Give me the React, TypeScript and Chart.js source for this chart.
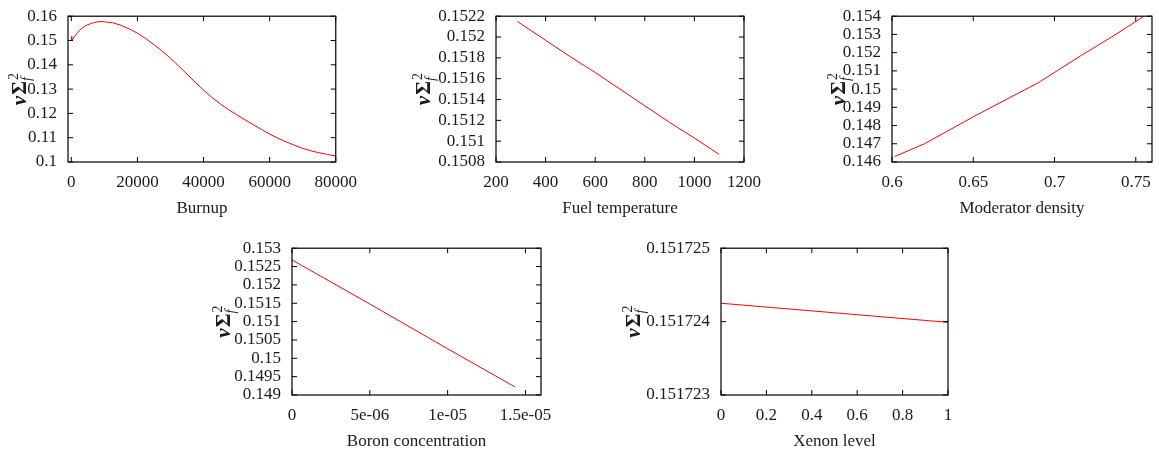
import React, { useEffect, useRef } from 'react';
import { Chart, registerables } from 'chart.js';

Chart.register(...registerables);

const FONT = "'Liberation Serif', 'Times New Roman', serif";
const TEXT_COLOR = '#1a1a1a';
const LINE_COLOR = '#ff0000';

// ---------- Burnup ----------
const burnupX = [0, 150, 500, 1000, 2000, 3000, 4000, 5000, 6000, 7000, 8000, 9000, 10000, 12500, 15000, 17500, 20000, 22500, 25000, 27500, 30000, 32500, 35000, 37500, 40000, 42500, 45000, 47500, 50000, 52500, 55000, 57500, 60000, 62500, 65000, 67500, 70000, 72500, 75000, 77500, 80000];
const burnupY = [0.1516, 0.15, 0.1507, 0.1517, 0.1534, 0.1548, 0.1558, 0.1565, 0.157, 0.1574, 0.1577, 0.1578, 0.1577, 0.1573, 0.1563, 0.1548, 0.153, 0.1508, 0.1483, 0.1456, 0.1427, 0.1395, 0.1362, 0.1328, 0.1296, 0.1266, 0.124, 0.1216, 0.1195, 0.1174, 0.1154, 0.1134, 0.1115, 0.1098, 0.1083, 0.1069, 0.1056, 0.1046, 0.1038, 0.1031, 0.1025];
const burnupXTicks = [0, 20000, 40000, 60000, 80000];
const burnupXTickLabels = ['0', '20000', '40000', '60000', '80000'];
const burnupYTicks = [0.1, 0.11, 0.12, 0.13, 0.14, 0.15, 0.16];
const burnupYTickLabels = ['0.1', '0.11', '0.12', '0.13', '0.14', '0.15', '0.16'];

// ---------- Fuel temperature ----------
const fuelTempX = [286, 500, 600, 700, 800, 900, 1000, 1100];
const fuelTempY = [0.15215, 0.15181, 0.15166, 0.1515, 0.15134, 0.15118, 0.15103, 0.150873];
const fuelTempXTicks = [200, 400, 600, 800, 1000, 1200];
const fuelTempXTickLabels = ['200', '400', '600', '800', '1000', '1200'];
const fuelTempYTicks = [0.1508, 0.151, 0.1512, 0.1514, 0.1516, 0.1518, 0.152, 0.1522];
const fuelTempYTickLabels = ['0.1508', '0.151', '0.1512', '0.1514', '0.1516', '0.1518', '0.152', '0.1522'];

// ---------- Moderator density ----------
const modDensX = [0.6017, 0.62, 0.65, 0.69, 0.716, 0.735, 0.7548];
const modDensY = [0.1463, 0.147, 0.14848, 0.15035, 0.15182, 0.15285, 0.15398];
const modDensXTicks = [0.6, 0.65, 0.7, 0.75];
const modDensXTickLabels = ['0.6', '0.65', '0.7', '0.75'];
const modDensYTicks = [0.146, 0.147, 0.148, 0.149, 0.15, 0.151, 0.152, 0.153, 0.154];
const modDensYTickLabels = ['0.146', '0.147', '0.148', '0.149', '0.15', '0.151', '0.152', '0.153', '0.154'];

// ---------- Boron concentration ----------
const boronX = [0, 5e-6, 1e-5, 1.433e-5];
const boronY = [0.15268, 0.15148, 0.15026, 0.14922];
const boronXTicks = [0, 5e-6, 1e-5, 1.5e-5];
const boronXTickLabels = ['0', '5e-06', '1e-05', '1.5e-05'];
const boronYTicks = [0.149, 0.1495, 0.15, 0.1505, 0.151, 0.1515, 0.152, 0.1525, 0.153];
const boronYTickLabels = ['0.149', '0.1495', '0.15', '0.1505', '0.151', '0.1515', '0.152', '0.1525', '0.153'];

// ---------- Xenon level ----------
const xenonX = [0, 1];
const xenonY = [0.15172425, 0.15172399];
const xenonXTicks = [0, 0.2, 0.4, 0.6, 0.8, 1];
const xenonXTickLabels = ['0', '0.2', '0.4', '0.6', '0.8', '1'];
const xenonYTicks = [0.151723, 0.151724, 0.151725];
const xenonYTickLabels = ['0.151723', '0.151724', '0.151725'];

type PlotDef = {
  xs: number[];
  ys: number[];
  xRange: [number, number];
  yRange: [number, number];
  xTicks: number[];
  xTickLabels: string[];
  yTicks: number[];
  yTickLabels: string[];
  xTitle: string;
};

const PLOTS: PlotDef[] = [
  { xs: burnupX, ys: burnupY, xRange: [-1000, 80000], yRange: [0.1, 0.16], xTicks: burnupXTicks, xTickLabels: burnupXTickLabels, yTicks: burnupYTicks, yTickLabels: burnupYTickLabels, xTitle: 'Burnup' },
  { xs: fuelTempX, ys: fuelTempY, xRange: [200, 1200], yRange: [0.1508, 0.1522], xTicks: fuelTempXTicks, xTickLabels: fuelTempXTickLabels, yTicks: fuelTempYTicks, yTickLabels: fuelTempYTickLabels, xTitle: 'Fuel temperature' },
  { xs: modDensX, ys: modDensY, xRange: [0.6, 0.76], yRange: [0.146, 0.154], xTicks: modDensXTicks, xTickLabels: modDensXTickLabels, yTicks: modDensYTicks, yTickLabels: modDensYTickLabels, xTitle: 'Moderator density' },
  { xs: boronX, ys: boronY, xRange: [0, 1.6e-5], yRange: [0.149, 0.153], xTicks: boronXTicks, xTickLabels: boronXTickLabels, yTicks: boronYTicks, yTickLabels: boronYTickLabels, xTitle: 'Boron concentration' },
  { xs: xenonX, ys: xenonY, xRange: [0, 1], yRange: [0.151723, 0.151725], xTicks: xenonXTicks, xTickLabels: xenonXTickLabels, yTicks: xenonYTicks, yTickLabels: xenonYTickLabels, xTitle: 'Xenon level' },
];

// plot-area boxes on the page (layout only)
const BOXES = [
  { l: 68, t: 9, r: 337, b: 162, labelOffset: 42 },
  { l: 496, t: 9, r: 744, b: 162, labelOffset: 66 },
  { l: 892, t: 9, r: 1152, b: 162, labelOffset: 47 },
  { l: 292, t: 241, r: 541, b: 395, labelOffset: 62 },
  { l: 721, t: 241, r: 948, b: 395, labelOffset: 81 },
];

const WY = 110;
const PAD_TOP = 14;
const PAD_RIGHT = 30;
const HX = 57;
const FONT_SIZE = 17;

const framePlugin = {
  id: 'gnuFrame',
  afterDatasetsDraw(chart: any, _args: any, opts: any) {
    const { ctx, chartArea: a, scales } = chart;
    const L = 5;
    ctx.save();
    ctx.strokeStyle = '#000';
    ctx.lineWidth = 1;
    ctx.beginPath();
    for (const t of scales.x.ticks) {
      const p = scales.x.getPixelForValue(t.value);
      ctx.moveTo(p, a.bottom);
      ctx.lineTo(p, a.bottom - L);
      ctx.moveTo(p, a.top);
      ctx.lineTo(p, a.top + L);
    }
    for (const t of scales.y.ticks) {
      const p = scales.y.getPixelForValue(t.value);
      ctx.moveTo(a.left, p);
      ctx.lineTo(a.left + L, p);
      ctx.moveTo(a.right, p);
      ctx.lineTo(a.right - L, p);
    }
    ctx.stroke();
    ctx.lineWidth = 1.2;
    ctx.strokeRect(a.left, a.top, a.right - a.left, a.bottom - a.top);

    // y-axis label: bold nu Sigma with sub f and sup 2, rotated
    const cx = a.left - opts.labelOffset;
    const cy = (a.top + a.bottom) / 2;
    ctx.translate(cx, cy);
    ctx.rotate(-Math.PI / 2);
    ctx.fillStyle = TEXT_COLOR;
    ctx.textBaseline = 'alphabetic';
    ctx.textAlign = 'left';
    const mainSize = 21;
    const scriptSize = 14;
    ctx.font = `italic bold ${mainSize}px ${FONT}`;
    const wNu = ctx.measureText('ν').width;
    ctx.font = `bold ${mainSize}px ${FONT}`;
    const wSig = ctx.measureText('Σ').width;
    ctx.font = `${scriptSize}px ${FONT}`;
    const w2 = ctx.measureText('2').width;
    ctx.font = `italic ${scriptSize}px ${FONT}`;
    const wf = ctx.measureText('f').width;
    const total = wNu + 1 + wSig + 1 + Math.max(w2, wf);
    const x0 = -total / 2;
    ctx.font = `italic bold ${mainSize}px ${FONT}`;
    ctx.fillText('ν', x0, 0);
    ctx.font = `bold ${mainSize}px ${FONT}`;
    ctx.fillText('Σ', x0 + wNu + 1, 0);
    ctx.font = `${scriptSize}px ${FONT}`;
    ctx.fillText('2', x0 + wNu + wSig + 2, -8);
    ctx.font = `italic ${scriptSize}px ${FONT}`;
    ctx.fillText('f', x0 + wNu + wSig + 1, 5);
    ctx.restore();
  },
};

function PlotCanvas({ plot, box }: { plot: PlotDef; box: typeof BOXES[number] }) {
  const ref = useRef<HTMLCanvasElement | null>(null);
  const width = WY + (box.r - box.l) + PAD_RIGHT;
  const height = PAD_TOP + (box.b - box.t) + HX;
  useEffect(() => {
    if (!ref.current) return;
    const font = { family: FONT, size: FONT_SIZE };
    const chart = new Chart(ref.current, {
      type: 'line',
      data: {
        datasets: [
          {
            data: plot.xs.map((x, i) => ({ x, y: plot.ys[i] })),
            borderColor: LINE_COLOR,
            borderWidth: 1,
            pointRadius: 0,
            tension: 0,
            fill: false,
          },
        ],
      },
      options: {
        responsive: false,
        animation: false,
        events: [],
        layout: { padding: { left: 0, top: PAD_TOP, right: PAD_RIGHT, bottom: 0 } },
        plugins: {
          legend: { display: false },
          tooltip: { enabled: false },
          gnuFrame: { labelOffset: box.labelOffset },
        } as any,
        scales: {
          x: {
            type: 'linear',
            min: plot.xRange[0],
            max: plot.xRange[1],
            afterBuildTicks: (s: any) => {
              s.ticks = plot.xTicks.map((v) => ({ value: v }));
            },
            afterFit: (s: any) => {
              s.height = HX;
            },
            grid: { display: false, drawTicks: false },
            border: { display: false },
            ticks: {
              autoSkip: false,
              maxRotation: 0,
              padding: 10,
              color: TEXT_COLOR,
              font,
              callback: (_v: any, i: number) => plot.xTickLabels[i],
            },
            title: { display: true, text: plot.xTitle, padding: 0, color: TEXT_COLOR, font },
          },
          y: {
            type: 'linear',
            min: plot.yRange[0],
            max: plot.yRange[1],
            afterBuildTicks: (s: any) => {
              s.ticks = plot.yTicks.map((v) => ({ value: v }));
            },
            afterFit: (s: any) => {
              s.width = WY;
            },
            grid: { display: false, drawTicks: false },
            border: { display: false },
            ticks: {
              autoSkip: false,
              padding: 11,
              color: TEXT_COLOR,
              font,
              callback: (_v: any, i: number) => plot.yTickLabels[i],
            },
          },
        },
      } as any,
      plugins: [framePlugin],
    });
    return () => chart.destroy();
  }, [plot, box]);
  return (
    <canvas
      ref={ref}
      width={width}
      height={height}
      style={{ position: 'absolute', left: box.l - WY, top: box.t - PAD_TOP, width, height }}
    />
  );
}

export default function App() {
  return (
    <div style={{ position: 'absolute', left: 0, top: 0, width: 1159, height: 454, overflow: 'hidden', background: '#fff' }}>
      {PLOTS.map((p, i) => (
        <PlotCanvas key={i} plot={p} box={BOXES[i]} />
      ))}
    </div>
  );
}
